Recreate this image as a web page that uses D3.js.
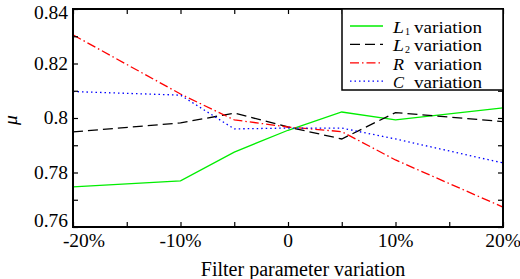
<!DOCTYPE html>
<html>
<head>
<meta charset="utf-8">
<script src="https://cdn.jsdelivr.net/npm/d3@7"></script>
<style>
  body { margin: 0; background: #fff; }
  svg { display: block; }
</style>
</head>
<body>
<div class="chart-container"></div>
<script>
const SVG_WIDTH = 520;
const SVG_HEIGHT = 279;
const FONT = "'Liberation Serif', 'DejaVu Serif', serif";

const margin = { top: 9, right: 17, bottom: 52, left: 73 };

// filter parameter variation (%)
const xValues = [-20, -10, -5, 0, 5, 10, 20];

const l1Values = [0.7747, 0.7769, 0.7875, 0.7955, 0.8022, 0.7993, 0.8037];
const l2Values = [0.7949, 0.7982, 0.8018, 0.7967, 0.7923, 0.8020, 0.7987];
const rValues  = [0.8305, 0.8088, 0.7993, 0.7967, 0.7950, 0.7846, 0.7673];
const cValues  = [0.8097, 0.8084, 0.7960, 0.7963, 0.7963, 0.7923, 0.7835];

const xTickValues = [-20, -10, 0, 10, 20];
const xTickLabels = ["-20%", "-10%", "0", "10%", "20%"];
const xMinorTicks = [-15, -5, 5, 15];

const yTickValues = [0.76, 0.78, 0.80, 0.82, 0.84];
const yTickLabels = ["0.76", "0.78", "0.8", "0.82", "0.84"];
const yMinorTicks = [0.77, 0.79, 0.81, 0.83];

const legendSymbols = ["L", "L", "R", "C"];
const legendSubscripts = ["1", "2", "", ""];

const series = [
    { values: l1Values, colour: "#00ee00", dash: null },
    { values: l2Values, colour: "#000000", dash: "10,5" },
    { values: rValues,  colour: "#ff0000", dash: "9,3,1.5,3" },
    { values: cValues,  colour: "#0000ff", dash: "1.5,3" }
];

const svg = d3.select(".chart-container")
    .append("svg")
    .attr("width", SVG_WIDTH)
    .attr("height", SVG_HEIGHT);

const plotW = SVG_WIDTH - margin.left - margin.right;
const plotH = SVG_HEIGHT - margin.top - margin.bottom;

const x = d3.scaleLinear().domain([-20, 20]).range([margin.left, margin.left + plotW]);
const y = d3.scaleLinear().domain([0.76, 0.84]).range([margin.top + plotH, margin.top]);

function addText(parent, x, y, str, size=19.5){
    return parent.append("text")
        .attr("x", x)
        .attr("y", y)
        .style("font-family", FONT)
        .style("font-size", size + "px")
        .attr("fill", "#000")
        .text(str);
}

// ticks pointing inward on all four sides
function drawTicks(){
    const allX = xTickValues.concat(xMinorTicks);
    const allY = yTickValues.concat(yMinorTicks);

    svg.append("g")
        .attr("transform", `translate(0,${margin.top + plotH})`)
        .call(d3.axisBottom(x).tickValues(allX).tickSizeInner(-5).tickSizeOuter(0).tickFormat(""))
        .call(g => g.select(".domain").remove());

    svg.append("g")
        .attr("transform", `translate(0,${margin.top})`)
        .call(d3.axisTop(x).tickValues(allX).tickSizeInner(-5).tickSizeOuter(0).tickFormat(""))
        .call(g => g.select(".domain").remove());

    svg.append("g")
        .attr("transform", `translate(${margin.left},0)`)
        .call(d3.axisLeft(y).tickValues(allY).tickSizeInner(-5).tickSizeOuter(0).tickFormat(""))
        .call(g => g.select(".domain").remove());

    svg.append("g")
        .attr("transform", `translate(${margin.left + plotW},0)`)
        .call(d3.axisRight(y).tickValues(allY).tickSizeInner(-5).tickSizeOuter(0).tickFormat(""))
        .call(g => g.select(".domain").remove());

    svg.selectAll(".tick line").attr("stroke", "#000").attr("stroke-width", 1.2);
}

function drawTickLabels(){
    xTickValues.forEach((v, i) => {
        addText(svg, Math.max(x(v), 84), 247, xTickLabels[i])
            .attr("text-anchor", "middle");
    });

    yTickValues.forEach((v, i) => {
        const cy = Math.min(Math.max(y(v), 13), 221);
        addText(svg, 68, cy + 6, yTickLabels[i])
            .attr("text-anchor", "end");
    });

    addText(svg, 303, 276, "Filter parameter variation", 20)
        .attr("text-anchor", "middle");

    addText(svg, 0, 0, "μ")
        .attr("transform", `translate(17,120) rotate(-90)`)
        .attr("text-anchor", "middle")
        .style("font-style", "italic");
}

function drawLines(){
    const line = d3.line()
        .x((d, i) => x(xValues[i]))
        .y(d => y(d));

    series.forEach(s => {
        svg.append("path")
            .datum(s.values)
            .attr("d", line)
            .attr("fill", "none")
            .attr("stroke", s.colour)
            .attr("stroke-width", 1.3)
            .attr("stroke-dasharray", s.dash);
    });
}

function drawFrame(){
    svg.append("rect")
        .attr("x", margin.left)
        .attr("y", margin.top)
        .attr("width", plotW)
        .attr("height", plotH)
        .attr("fill", "none")
        .attr("stroke", "#000")
        .attr("stroke-width", 2);
}

function drawLegend(){
    const box = { x: 342, y: margin.top, w: margin.left + plotW - 342, h: 81 };
    const legendSize = 16.5;

    svg.append("rect")
        .attr("x", box.x)
        .attr("y", box.y)
        .attr("width", box.w)
        .attr("height", box.h)
        .attr("fill", "#fff")
        .attr("stroke", "#000")
        .attr("stroke-width", 1.5);

    series.forEach((s, i) => {
        const rowY = 26 + i * 18.4;

        svg.append("line")
            .attr("x1", 350)
            .attr("x2", 383)
            .attr("y1", rowY)
            .attr("y2", rowY)
            .attr("stroke", s.colour)
            .attr("stroke-width", 1.3)
            .attr("stroke-dasharray", s.dash);

        // symbol, subscript and word as separate texts so they do not overlap
        addText(svg, 393, rowY + 7, legendSymbols[i], legendSize)
            .style("font-style", "italic")
            .attr("textLength", 11)
            .attr("lengthAdjust", "spacingAndGlyphs");
        if (legendSubscripts[i]) {
            addText(svg, 405, rowY + 9, legendSubscripts[i], 10);
        }
        addText(svg, 414, rowY + 7, "variation", legendSize)
            .attr("textLength", 68)
            .attr("lengthAdjust", "spacingAndGlyphs");
    });
}

function draw(){
    drawLines();
    drawTicks();
    drawFrame();
    drawLegend();
    drawTickLabels();
}

draw();
</script>
</body>
</html>
